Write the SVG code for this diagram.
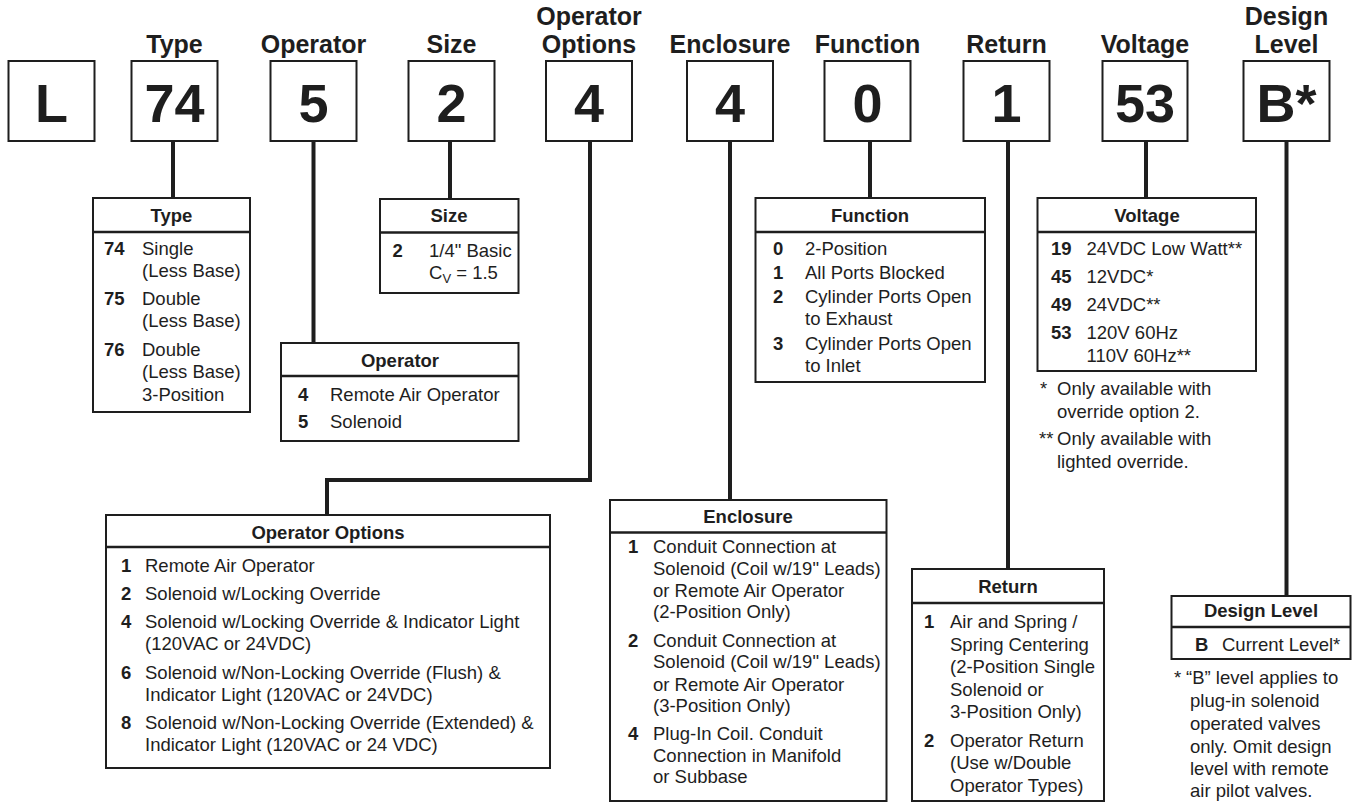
<svg xmlns="http://www.w3.org/2000/svg" width="1354" height="803" viewBox="0 0 1354 803">
<style>
text{font-family:"Liberation Sans",Arial,Helvetica,sans-serif;fill:#1e1e1e}
.hdr{font-size:25px;font-weight:bold;text-anchor:middle}
.dig{font-size:54px;font-weight:bold;text-anchor:middle}
.th{font-size:18.5px;font-weight:bold;text-anchor:middle}
.n{font-size:18.5px;font-weight:bold}
.t{font-size:18.5px}
.box{fill:#fff;stroke:#1e1e1e;stroke-width:2}
.sep{stroke:#1e1e1e;stroke-width:2.5}
.conn{stroke:#1e1e1e;stroke-width:4;fill:none}
</style>
<rect width="1354" height="803" fill="#fff"/>
<g id="connectors">
<line class="conn" x1="173" y1="141" x2="173" y2="198"/>
<line class="conn" x1="313.5" y1="141" x2="313.5" y2="343"/>
<line class="conn" x1="450" y1="141" x2="450" y2="199"/>
<polyline class="conn" points="590,141 590,480 327,480 327,515"/>
<line class="conn" x1="730" y1="141" x2="730" y2="500"/>
<line class="conn" x1="870" y1="141" x2="870" y2="198"/>
<line class="conn" x1="1008" y1="141" x2="1008" y2="569"/>
<line class="conn" x1="1146" y1="141" x2="1146" y2="198"/>
<line class="conn" x1="1286.5" y1="141" x2="1286.5" y2="596"/>
</g>
<g id="code-L"><rect class="box" x="8.5" y="61" width="86" height="80"/><text class="dig" x="51.5" y="122">L</text></g>
<g id="code-type"><text class="hdr" x="174.5" y="53">Type</text><rect class="box" x="131.5" y="61" width="86" height="80"/><text class="dig" x="174.5" y="122">74</text></g>
<g id="code-operator"><text class="hdr" x="313.5" y="53">Operator</text><rect class="box" x="270.5" y="61" width="86" height="80"/><text class="dig" x="313.5" y="122">5</text></g>
<g id="code-size"><text class="hdr" x="451.5" y="53">Size</text><rect class="box" x="408.5" y="61" width="86" height="80"/><text class="dig" x="451.5" y="122">2</text></g>
<g id="code-opoptions"><text class="hdr" x="589" y="25">Operator</text><text class="hdr" x="589" y="53">Options</text><rect class="box" x="546" y="61" width="86" height="80"/><text class="dig" x="589" y="122">4</text></g>
<g id="code-enclosure"><text class="hdr" x="730" y="53">Enclosure</text><rect class="box" x="687" y="61" width="86" height="80"/><text class="dig" x="730" y="122">4</text></g>
<g id="code-function"><text class="hdr" x="867.5" y="53">Function</text><rect class="box" x="824.5" y="61" width="86" height="80"/><text class="dig" x="867.5" y="122">0</text></g>
<g id="code-return"><text class="hdr" x="1006.5" y="53">Return</text><rect class="box" x="963.5" y="61" width="86" height="80"/><text class="dig" x="1006.5" y="122">1</text></g>
<g id="code-voltage"><text class="hdr" x="1145" y="53">Voltage</text><rect class="box" x="1102.5" y="61" width="85" height="80"/><text class="dig" x="1145" y="122">53</text></g>
<g id="code-design"><text class="hdr" x="1286.5" y="25">Design</text><text class="hdr" x="1286.5" y="53">Level</text><rect class="box" x="1243.5" y="61" width="86" height="80"/><text class="dig" x="1286.5" y="122">B*</text></g>

<g id="table-type">
<rect class="box" x="93" y="198" width="157" height="214"/><line class="sep" x1="93" y1="232" x2="250" y2="232"/>
<text class="th" x="171.5" y="222">Type</text>
<text class="n" x="104" y="255">74</text><text class="t" x="142" y="255">Single</text><text class="t" x="142" y="277">(Less Base)</text>
<text class="n" x="104" y="305">75</text><text class="t" x="142" y="305">Double</text><text class="t" x="142" y="327">(Less Base)</text>
<text class="n" x="104" y="356">76</text><text class="t" x="142" y="356">Double</text><text class="t" x="142" y="378">(Less Base)</text><text class="t" x="142" y="401">3-Position</text>
</g>
<g id="table-size">
<rect class="box" x="380" y="199" width="138.5" height="94"/><line class="sep" x1="380" y1="232.5" x2="518.5" y2="232.5"/>
<text class="th" x="449" y="222">Size</text>
<text class="n" x="392.5" y="257">2</text><text class="t" x="429" y="257">1/4" Basic</text>
<text class="t" x="429" y="279">C<tspan font-size="13" dy="4">V</tspan><tspan dy="-4"> = 1.5</tspan></text>
</g>
<g id="table-operator">
<rect class="box" x="281" y="343" width="237.5" height="98"/><line class="sep" x1="281" y1="376" x2="518.5" y2="376"/>
<text class="th" x="400" y="367">Operator</text>
<text class="n" x="298" y="401">4</text><text class="t" x="330" y="401">Remote Air Operator</text>
<text class="n" x="298" y="428">5</text><text class="t" x="330" y="428">Solenoid</text>
</g>
<g id="table-opoptions">
<rect class="box" x="106" y="515" width="444" height="253"/><line class="sep" x1="106" y1="547" x2="550" y2="547"/>
<text class="th" x="328" y="539">Operator Options</text>
<text class="n" x="121" y="572">1</text><text class="t" x="145" y="572">Remote Air Operator</text>
<text class="n" x="121" y="600">2</text><text class="t" x="145" y="600">Solenoid w/Locking Override</text>
<text class="n" x="121" y="628">4</text><text class="t" x="145" y="628">Solenoid w/Locking Override &amp; Indicator Light</text><text class="t" x="145" y="650">(120VAC or 24VDC)</text>
<text class="n" x="121" y="679">6</text><text class="t" x="145" y="679">Solenoid w/Non-Locking Override (Flush) &amp;</text><text class="t" x="145" y="701">Indicator Light (120VAC or 24VDC)</text>
<text class="n" x="121" y="729">8</text><text class="t" x="145" y="729">Solenoid w/Non-Locking Override (Extended) &amp;</text><text class="t" x="145" y="751">Indicator Light (120VAC or 24 VDC)</text>
</g>
<g id="table-enclosure">
<rect class="box" x="610" y="500" width="276.5" height="301"/><line class="sep" x1="610" y1="532.5" x2="886.5" y2="532.5"/>
<text class="th" x="748" y="523">Enclosure</text>
<text class="n" x="628" y="553">1</text><text class="t" x="653" y="553">Conduit Connection at</text><text class="t" x="653" y="575">Solenoid (Coil w/19" Leads)</text><text class="t" x="653" y="597">or Remote Air Operator</text><text class="t" x="653" y="618">(2-Position Only)</text>
<text class="n" x="628" y="647">2</text><text class="t" x="653" y="647">Conduit Connection at</text><text class="t" x="653" y="668">Solenoid (Coil w/19" Leads)</text><text class="t" x="653" y="691">or Remote Air Operator</text><text class="t" x="653" y="712">(3-Position Only)</text>
<text class="n" x="628" y="740">4</text><text class="t" x="653" y="740">Plug-In Coil. Conduit</text><text class="t" x="653" y="762">Connection in Manifold</text><text class="t" x="653" y="783">or Subbase</text>
</g>
<g id="table-function">
<rect class="box" x="755.5" y="198" width="229.5" height="184"/><line class="sep" x1="755.5" y1="232" x2="985" y2="232"/>
<text class="th" x="870" y="222">Function</text>
<text class="n" x="773" y="255">0</text><text class="t" x="805" y="255">2-Position</text>
<text class="n" x="773" y="279">1</text><text class="t" x="805" y="279">All Ports Blocked</text>
<text class="n" x="773" y="303">2</text><text class="t" x="805" y="303">Cylinder Ports Open</text><text class="t" x="805" y="325">to Exhaust</text>
<text class="n" x="773" y="350">3</text><text class="t" x="805" y="350">Cylinder Ports Open</text><text class="t" x="805" y="372">to Inlet</text>
</g>
<g id="table-return">
<rect class="box" x="912" y="569" width="192" height="232"/><line class="sep" x1="912" y1="603" x2="1104" y2="603"/>
<text class="th" x="1008" y="593">Return</text>
<text class="n" x="924" y="628">1</text><text class="t" x="950" y="628">Air and Spring /</text><text class="t" x="950" y="651">Spring Centering</text><text class="t" x="950" y="673">(2-Position Single</text><text class="t" x="950" y="696">Solenoid or</text><text class="t" x="950" y="718">3-Position Only)</text>
<text class="n" x="924" y="747">2</text><text class="t" x="950" y="747">Operator Return</text><text class="t" x="950" y="769">(Use w/Double</text><text class="t" x="950" y="792">Operator Types)</text>
</g>
<g id="table-voltage">
<rect class="box" x="1037.5" y="198" width="218.5" height="173"/><line class="sep" x1="1037.5" y1="232" x2="1256" y2="232"/>
<text class="th" x="1147" y="222">Voltage</text>
<text class="n" x="1051" y="255">19</text><text class="t" x="1086.5" y="255">24VDC Low Watt**</text>
<text class="n" x="1051" y="283">45</text><text class="t" x="1086.5" y="283">12VDC*</text>
<text class="n" x="1051" y="311">49</text><text class="t" x="1086.5" y="311">24VDC**</text>
<text class="n" x="1051" y="339">53</text><text class="t" x="1086.5" y="339">120V 60Hz</text><text class="t" x="1086.5" y="362">110V 60Hz**</text>
<text class="t" x="1040" y="395">*</text><text class="t" x="1057" y="395">Only available with</text><text class="t" x="1057" y="418">override option 2.</text>
<text class="t" x="1039" y="445">**</text><text class="t" x="1057" y="445">Only available with</text><text class="t" x="1057" y="468">lighted override.</text>
</g>
<g id="table-design">
<rect class="box" x="1171.5" y="596" width="179" height="63"/><line class="sep" x1="1171.5" y1="627" x2="1350.5" y2="627"/>
<text class="th" x="1261" y="617">Design Level</text>
<text class="n" x="1195" y="651">B</text><text class="t" x="1222" y="651">Current Level*</text>
<text class="t" x="1174" y="684">*</text><text class="t" x="1186" y="684">“B” level applies to</text>
<text class="t" x="1190" y="707">plug-in solenoid</text><text class="t" x="1190" y="730">operated valves</text><text class="t" x="1190" y="753">only. Omit design</text><text class="t" x="1190" y="775">level with remote</text><text class="t" x="1190" y="797">air pilot valves.</text>
</g>
</svg>
